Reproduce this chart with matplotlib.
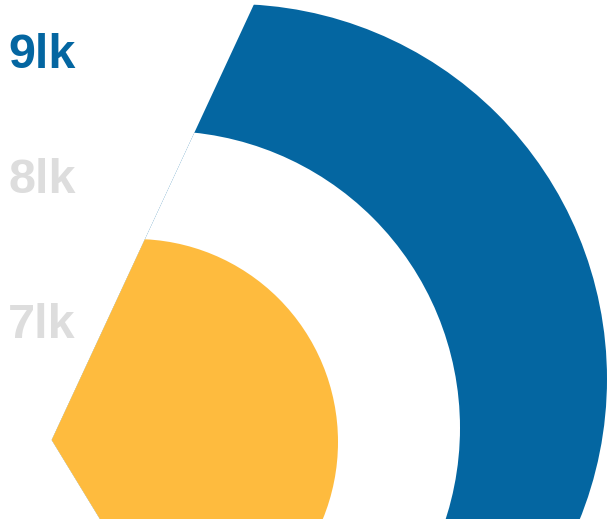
import matplotlib.pyplot as plt
from matplotlib.patches import Circle, Wedge

# bubbles, biggest first (drawn back to front)
labels = ['9lk', '8lk', '7lk']
bubble_x = [232, 163, 135]
bubble_y = [379, 428, 442]
bubble_r = [375, 297, 203]
highlight = '9lk'

# look
fill_colors = ['#0466a1', '#ffffff', '#febb3e']
label_y = [68, 193, 338]
blue = '#0466a1'
grey = '#dddddd'

fig = plt.figure(figsize=(6.08, 5.19), dpi=100)
ax = fig.add_axes([0, 0, 1, 1])
ax.set_xlim(0, 608)
ax.set_ylim(519, 0)
ax.axis('off')

# sector that cuts the bubbles on the left
sector = Wedge((51.7, 440), 2000, -65.1, 58.6, transform=ax.transData)

for i in range(len(labels)):
    c = Circle((bubble_x[i], bubble_y[i]), bubble_r[i],
               facecolor=fill_colors[i], edgecolor='none', zorder=i + 1)
    ax.add_patch(c)
    c.set_clip_path(sector)

for i, lab in enumerate(labels):
    col = blue if lab == highlight else grey
    ax.text(8, label_y[i], lab, fontsize=35, fontweight='bold',
            family='Liberation Sans', color=col,
            ha='left', va='baseline', zorder=10)

fig.savefig('out.png', dpi=100)
